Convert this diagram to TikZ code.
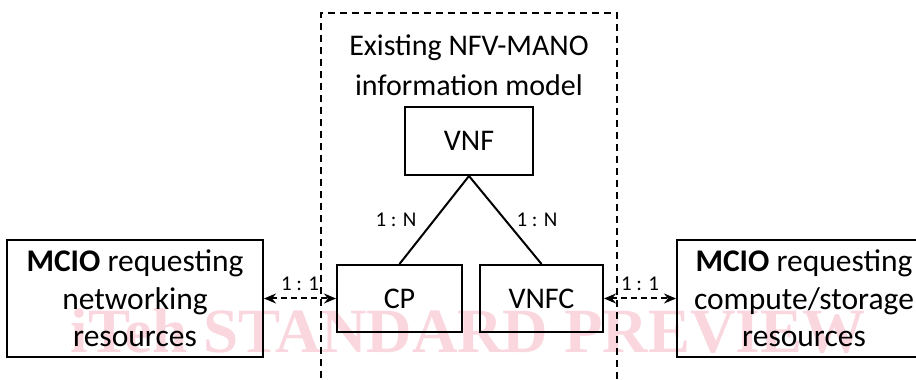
\documentclass[tikz,border=0pt]{standalone}
\usepackage{fontspec}
\setmainfont{Carlito}
\newfontfamily\wmfont{Liberation Serif}
\usetikzlibrary{arrows.meta,positioning}
\definecolor{wmpink}{RGB}{250,214,222}
\tikzset{
    box/.style = {draw, rectangle, line width=2pt, align=center,
        inner sep=0pt, minimum height=67pt},
    bigbox/.style = {box, minimum height=117pt,
        font=\fontsize{31.5}{37.5}\selectfont},
    lab/.style = {font=\fontsize{21}{24}\selectfont, inner sep=0pt},
    link/.style = {draw, {Stealth[length=12pt,width=10pt]}-{Stealth[length=12pt,width=10pt]},
        line width=2pt, dash pattern=on 6pt off 4pt}
}
\begin{document}
\begin{tikzpicture}[x=1pt, y=1pt,
    frame/.style={line width=1.6pt, dash pattern=on 7pt off 5pt},
    small/.style={box, font=\fontsize{30}{36}\selectfont},
    wmark/.style={font=\wmfont\bfseries\fontsize{63}{63}\selectfont,
        text=wmpink, inner sep=0pt, anchor=base}
]
\clip (0,0) rectangle (916,380);
\fill[white] (0,0) rectangle (916,380);
% watermark sits behind everything
\node[wmark] (wm) at (468,27) {iTeh STANDARD PREVIEW};

% NFV-MANO part
\draw[frame] (321,-10) rectangle (617,367);
\node[align=center, font=\fontsize{30}{40}\selectfont] (ttl) at (469,315)
    {Existing NFV-MANO\\information model};
\node[small, minimum width=128pt, minimum height=68pt] (vnf) at (469,239) {VNF};
\node[small, minimum width=125pt] (cp) at (399.5,81.5) {CP};
\node[small, minimum width=123pt, right=16pt of cp] (vnfc) {VNFC};

% MCIO boxes
\node[bigbox, minimum width=256pt, left=72pt of cp] (mcnet)
    {\textbf{MCIO} requesting\\networking\\resources};
\node[bigbox, minimum width=254pt, right=72pt of vnfc] (mccomp)
    {\textbf{MCIO} requesting\\compute/storage\\resources};

\draw[line width=2pt] (cp.north) -- (vnf.south) -- (vnfc.north);
\node[lab] (n1) at (396,160) {1 : N};
\node[lab] (n2) at (537,160) {1 : N};

\draw[link] (mcnet) -- node[lab, above=7pt] {1 : 1} (cp);
\draw[link] (vnfc) -- node[lab, above=7pt] {1 : 1} (mccomp);
\end{tikzpicture}
\end{document}
